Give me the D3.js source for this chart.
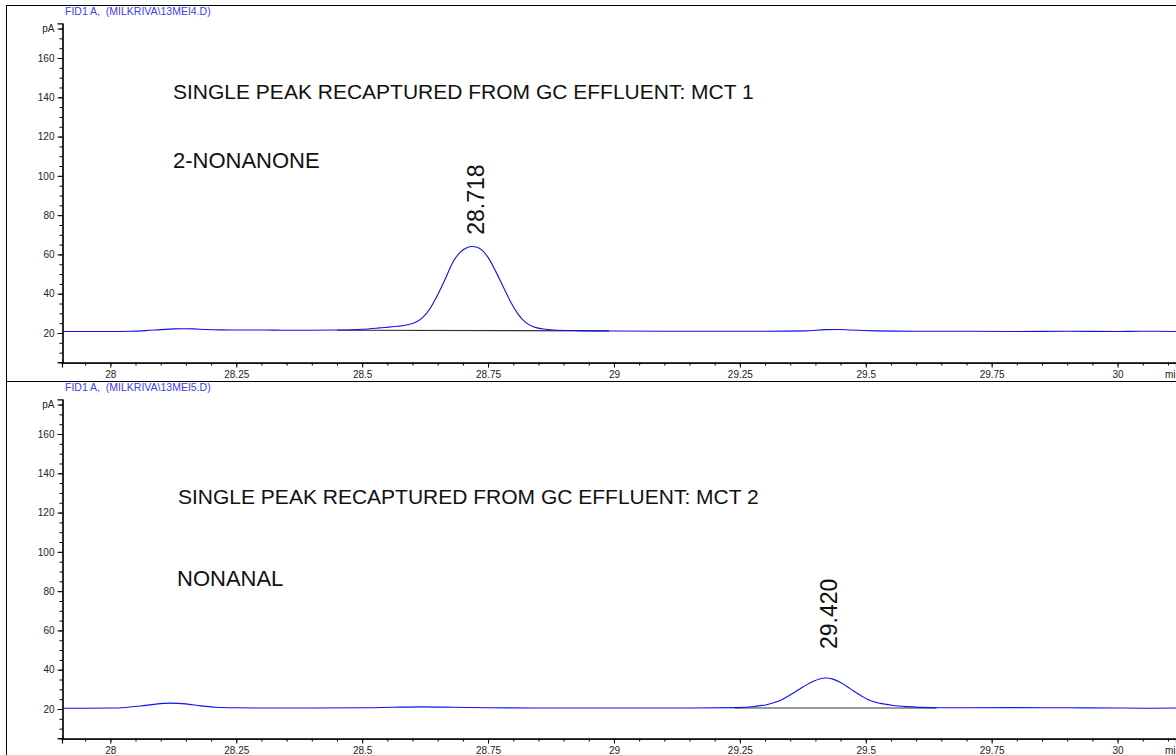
<!DOCTYPE html>
<html>
<head>
<meta charset="utf-8">
<title>GC FID traces</title>
<script src="https://cdn.jsdelivr.net/npm/d3@7"></script>
<style>
  body { margin: 0; background: #fff; }
  svg { display: block; font-family: "Liberation Sans", Arial, sans-serif; }
  .tick text { font-size: 10px; fill: #222; font-family: "Liberation Sans", Arial, sans-serif; }
  .domain, .tick line { stroke: #000; }
</style>
</head>
<body>
<div id="chart"></div>
<script>
// ---- data (time in min, signal in pA) ----
var times1 = [27.904, 27.95, 28.0, 28.04, 28.07, 28.10, 28.125, 28.145, 28.165, 28.19, 28.22, 28.26, 28.30, 28.35, 28.40,
  28.45, 28.50, 28.535, 28.57, 28.59, 28.605, 28.62, 28.635, 28.65, 28.665, 28.68, 28.695, 28.707, 28.718, 28.728,
  28.738, 28.75, 28.765, 28.78, 28.795, 28.81, 28.825, 28.84, 28.86, 28.88, 28.933, 29.0, 29.1, 29.2, 29.3, 29.38,
  29.42, 29.445, 29.47, 29.52, 29.6, 29.7, 29.8, 29.9, 30.0, 30.05, 30.116];
var signal1 = [20.8, 20.8, 20.8, 20.9, 21.2, 21.7, 22.1, 22.2, 22.1, 21.8, 21.6, 21.5, 21.5, 21.4, 21.4,
  21.5, 21.9, 22.6, 23.4, 24.2, 25.3, 27.8, 32.5, 39.5, 47.5, 56.0, 61.2, 63.3, 64.0, 63.7,
  62.2, 58.5, 51.5, 43.5, 35.8, 29.5, 25.3, 23.2, 22.0, 21.5, 21.2, 21.0, 20.9, 20.9, 20.9, 21.1,
  21.7, 21.8, 21.5, 21.1, 20.9, 20.9, 20.8, 20.9, 20.8, 20.9, 20.8];

var times2 = [27.904, 27.95, 28.0, 28.03, 28.06, 28.09, 28.12, 28.15, 28.18, 28.21, 28.25, 28.30, 28.40, 28.50, 28.56,
  28.62, 28.68, 28.75, 28.85, 28.95, 29.05, 29.15, 29.244, 29.28, 29.303, 29.32, 29.336, 29.352, 29.369, 29.383,
  29.396, 29.408, 29.421, 29.435, 29.449, 29.462, 29.475, 29.49, 29.502, 29.518, 29.535, 29.555, 29.581, 29.634,
  29.7, 29.8, 29.9, 30.0, 30.05, 30.116];
var signal2 = [20.4, 20.4, 20.5, 20.8, 21.5, 22.5, 23.0, 22.6, 21.6, 20.9, 20.6, 20.5, 20.5, 20.6, 20.9,
  21.1, 20.9, 20.6, 20.5, 20.5, 20.5, 20.5, 20.7, 21.3, 22.2, 23.4, 25.1, 27.5, 30.2, 32.4,
  34.1, 35.3, 35.8, 35.2, 33.6, 31.6, 29.3, 26.9, 25.1, 23.6, 22.6, 21.8, 21.2, 20.7,
  20.6, 20.7, 20.6, 20.5, 20.4, 20.5];

// integration baselines [start, end] as [time, pA]
var baseline1 = [[28.45, 21.4], [28.99, 21.1]];
var baseline2 = [[29.24, 20.5], [29.64, 20.5]];

// peak labels: retention time and label anchor level
var peakTimes = [28.718, 29.420];
var peakLabels = ["28.718", "29.420"];
var labelLevels = [70, 50.5];

var headers = ["FID1 A,  (MILKRIVA\\13MEI4.D)", "FID1 A,  (MILKRIVA\\13MEI5.D)"];
var titles = ["SINGLE PEAK RECAPTURED FROM GC EFFLUENT: MCT 1", "SINGLE PEAK RECAPTURED FROM GC EFFLUENT: MCT 2"];
var compounds = ["2-NONANONE", "NONANAL"];

var xMajor = [28, 28.25, 28.5, 28.75, 29, 29.25, 29.5, 29.75, 30];
var yMajor = [20, 40, 60, 80, 100, 120, 140, 160];

var width = 1176, height = 755;
var panelShift = 376;

var svg = d3.select("#chart").append("svg")
    .attr("width", width)
    .attr("height", height);

var x = d3.scaleLinear().domain([27.904, 30.116]).range([62, 1176]);

var xMinor = d3.range(27.95, 30.11, 0.05).map(function(d) { return +d.toFixed(2); });
var yMinor = d3.range(5, 176, 5);

// outer frame + divider
svg.append("line").attr("x1", 6.5).attr("x2", 6.5).attr("y1", 5).attr("y2", height).attr("stroke", "#000");
svg.append("line").attr("x1", 6).attr("x2", width).attr("y1", 5.5).attr("y2", 5.5).attr("stroke", "#000");
svg.append("line").attr("x1", 6).attr("x2", width).attr("y1", 381.5).attr("y2", 381.5).attr("stroke", "#000");

var panels = [
  { times: times1, signal: signal1, base: baseline1 },
  { times: times2, signal: signal2, base: baseline2 }
];

panels.forEach(function(p, i) {
  var off = i * panelShift;
  var y = d3.scaleLinear().domain([20, 160]).range([333 + off, 58 + off]);
  var g = svg.append("g");

  // header
  g.append("text")
      .attr("x", 65).attr("y", 15 + off)
      .style("white-space", "pre")
      .attr("font-size", "10.5px")
      .attr("fill", "#3c3cf0")
      .text(headers[i]);

  // y axis
  var yLo = 5.2, yHi = 177.6;
  var yAxisScale = d3.scaleLinear().domain([yLo, yHi]).range([y(yLo), y(yHi)]);
  g.append("g").attr("transform", "translate(62.5,0)")
      .call(d3.axisLeft(yAxisScale).tickValues(yMinor).tickSize(3).tickSizeOuter(0).tickFormat(""));
  g.append("g").attr("transform", "translate(62.5,0)")
      .call(d3.axisLeft(yAxisScale).tickValues(yMajor.concat([175])).tickSize(5).tickPadding(3)
        .tickFormat(function(d) { return d === 175 ? "pA" : d; }));

  // x axis
  var xAxisY = y(yLo) + 0.5;
  g.append("g").attr("transform", "translate(0," + xAxisY + ")")
      .call(d3.axisBottom(x).tickValues(xMinor).tickSize(3).tickSizeOuter(0).tickFormat(""));
  g.append("g").attr("transform", "translate(0," + xAxisY + ")")
      .call(d3.axisBottom(x).tickValues(xMajor).tickSize(5).tickPadding(3)
        .tickFormat(function(d) { return String(d); }));
  // unit label, clipped by the right edge as in the original plot
  g.append("text")
      .attr("x", 1165).attr("y", xAxisY + 15)
      .attr("font-size", "10px").attr("fill", "#222")
      .text("min");

  g.selectAll(".domain").attr("stroke-width", 1.2);

  // titles
  g.append("text")
      .attr("x", i === 0 ? 173 : 178).attr("y", (i === 0 ? 98.5 : 503.5))
      .attr("font-size", "21px").attr("fill", "#111")
      .text(titles[i]);
  g.append("text")
      .attr("x", i === 0 ? 173 : 177).attr("y", (i === 0 ? 167.5 : 585.5))
      .attr("font-size", "22px").attr("fill", "#111")
      .text(compounds[i]);

  // integration baseline
  g.append("line")
      .attr("x1", x(p.base[0][0])).attr("y1", y(p.base[0][1]))
      .attr("x2", x(p.base[1][0])).attr("y2", y(p.base[1][1]))
      .attr("stroke", "#333").attr("stroke-width", 1.2);

  // trace
  var pts = p.times.map(function(t, k) { return [t, p.signal[k]]; });
  var line = d3.line()
      .x(function(d) { return x(d[0]); })
      .y(function(d) { return y(d[1]); })
      .curve(d3.curveMonotoneX);
  g.append("path")
      .datum(pts)
      .attr("fill", "none")
      .attr("stroke", "#1010f0")
      .attr("stroke-width", 1.1)
      .attr("d", line);

  // peak label
  var lx = x(peakTimes[i]) + 12, ly = y(labelLevels[i]);
  g.append("text")
      .attr("transform", "translate(" + lx + "," + ly + ") rotate(-90)")
      .attr("font-size", "23px").attr("fill", "#111")
      .text(peakLabels[i]);
});
</script>
</body>
</html>
